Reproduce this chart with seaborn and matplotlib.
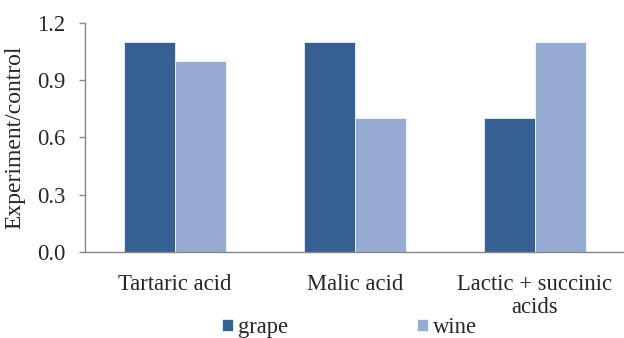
import matplotlib
matplotlib.use("Agg")
import matplotlib.pyplot as plt
import seaborn as sns
import pandas as pd
from matplotlib.ticker import FixedLocator, NullFormatter

categories = ["Tartaric acid", "Malic acid", "Lactic + succinic\nacids"]
grape = [1.1, 1.1, 0.7]
wine = [1.0, 0.7, 1.1]
series_names = ["grape", "wine"]
yticks = [0.0, 0.3, 0.6, 0.9, 1.2]

df = pd.DataFrame({
    "category": categories * 2,
    "value": grape + wine,
    "series": [series_names[0]] * 3 + [series_names[1]] * 3,
})

sns.set_theme(style="white")
plt.rcParams["font.family"] = ["Liberation Serif", "DejaVu Serif"]
FS = 16.3
AXIS_GREY = "#868686"

fig = plt.figure(figsize=(6.24, 3.38), dpi=100)
ax = fig.add_axes([0.1362, 0.2544, 0.8654, 0.678])

palette = {"grape": "#366092", "wine": "#95ABD2"}
sns.barplot(data=df, x="category", y="value", hue="series", palette=palette,
            width=0.572, saturation=1, ax=ax, edgecolor="white", linewidth=0.5,
            errorbar=None)

ax.set_xlim(-0.5, 2.5)
ax.set_ylim(0, 1.2)
ax.set_yticks(yticks)
ax.set_yticklabels([f"{v:.1f}" for v in yticks], fontsize=FS)
ax.set_ylabel("Experiment/control", fontsize=17, labelpad=8)
ax.set_xlabel("")
ax.tick_params(axis="x", which="major", length=0, labelsize=FS, pad=15.5)
ax.xaxis.set_minor_locator(FixedLocator([-0.5, 0.5, 1.5, 2.5]))
ax.xaxis.set_minor_formatter(NullFormatter())
ax.tick_params(axis="x", which="minor", length=4.3, width=1, color=AXIS_GREY, direction="out")
ax.tick_params(axis="y", length=4.3, width=1, color=AXIS_GREY, direction="out", left=True,
               labelsize=FS, pad=10)
for lbl in ax.get_xticklabels():
    lbl.set_linespacing(1.13)

for side in ["top", "right"]:
    ax.spines[side].set_visible(False)
for side in ["left", "bottom"]:
    ax.spines[side].set_color(AXIS_GREY)
    ax.spines[side].set_linewidth(1)

ax.legend_.remove()
handles, labels = ax.get_legend_handles_labels()
fig.legend(handles, labels, loc="center", bbox_to_anchor=(0.56, 0.031), ncol=2,
           frameon=False, fontsize=FS, handlelength=0.49, handleheight=0.49,
           handletextpad=0.22, columnspacing=5.66, borderpad=0)

fig.savefig("out.png", dpi=100)
